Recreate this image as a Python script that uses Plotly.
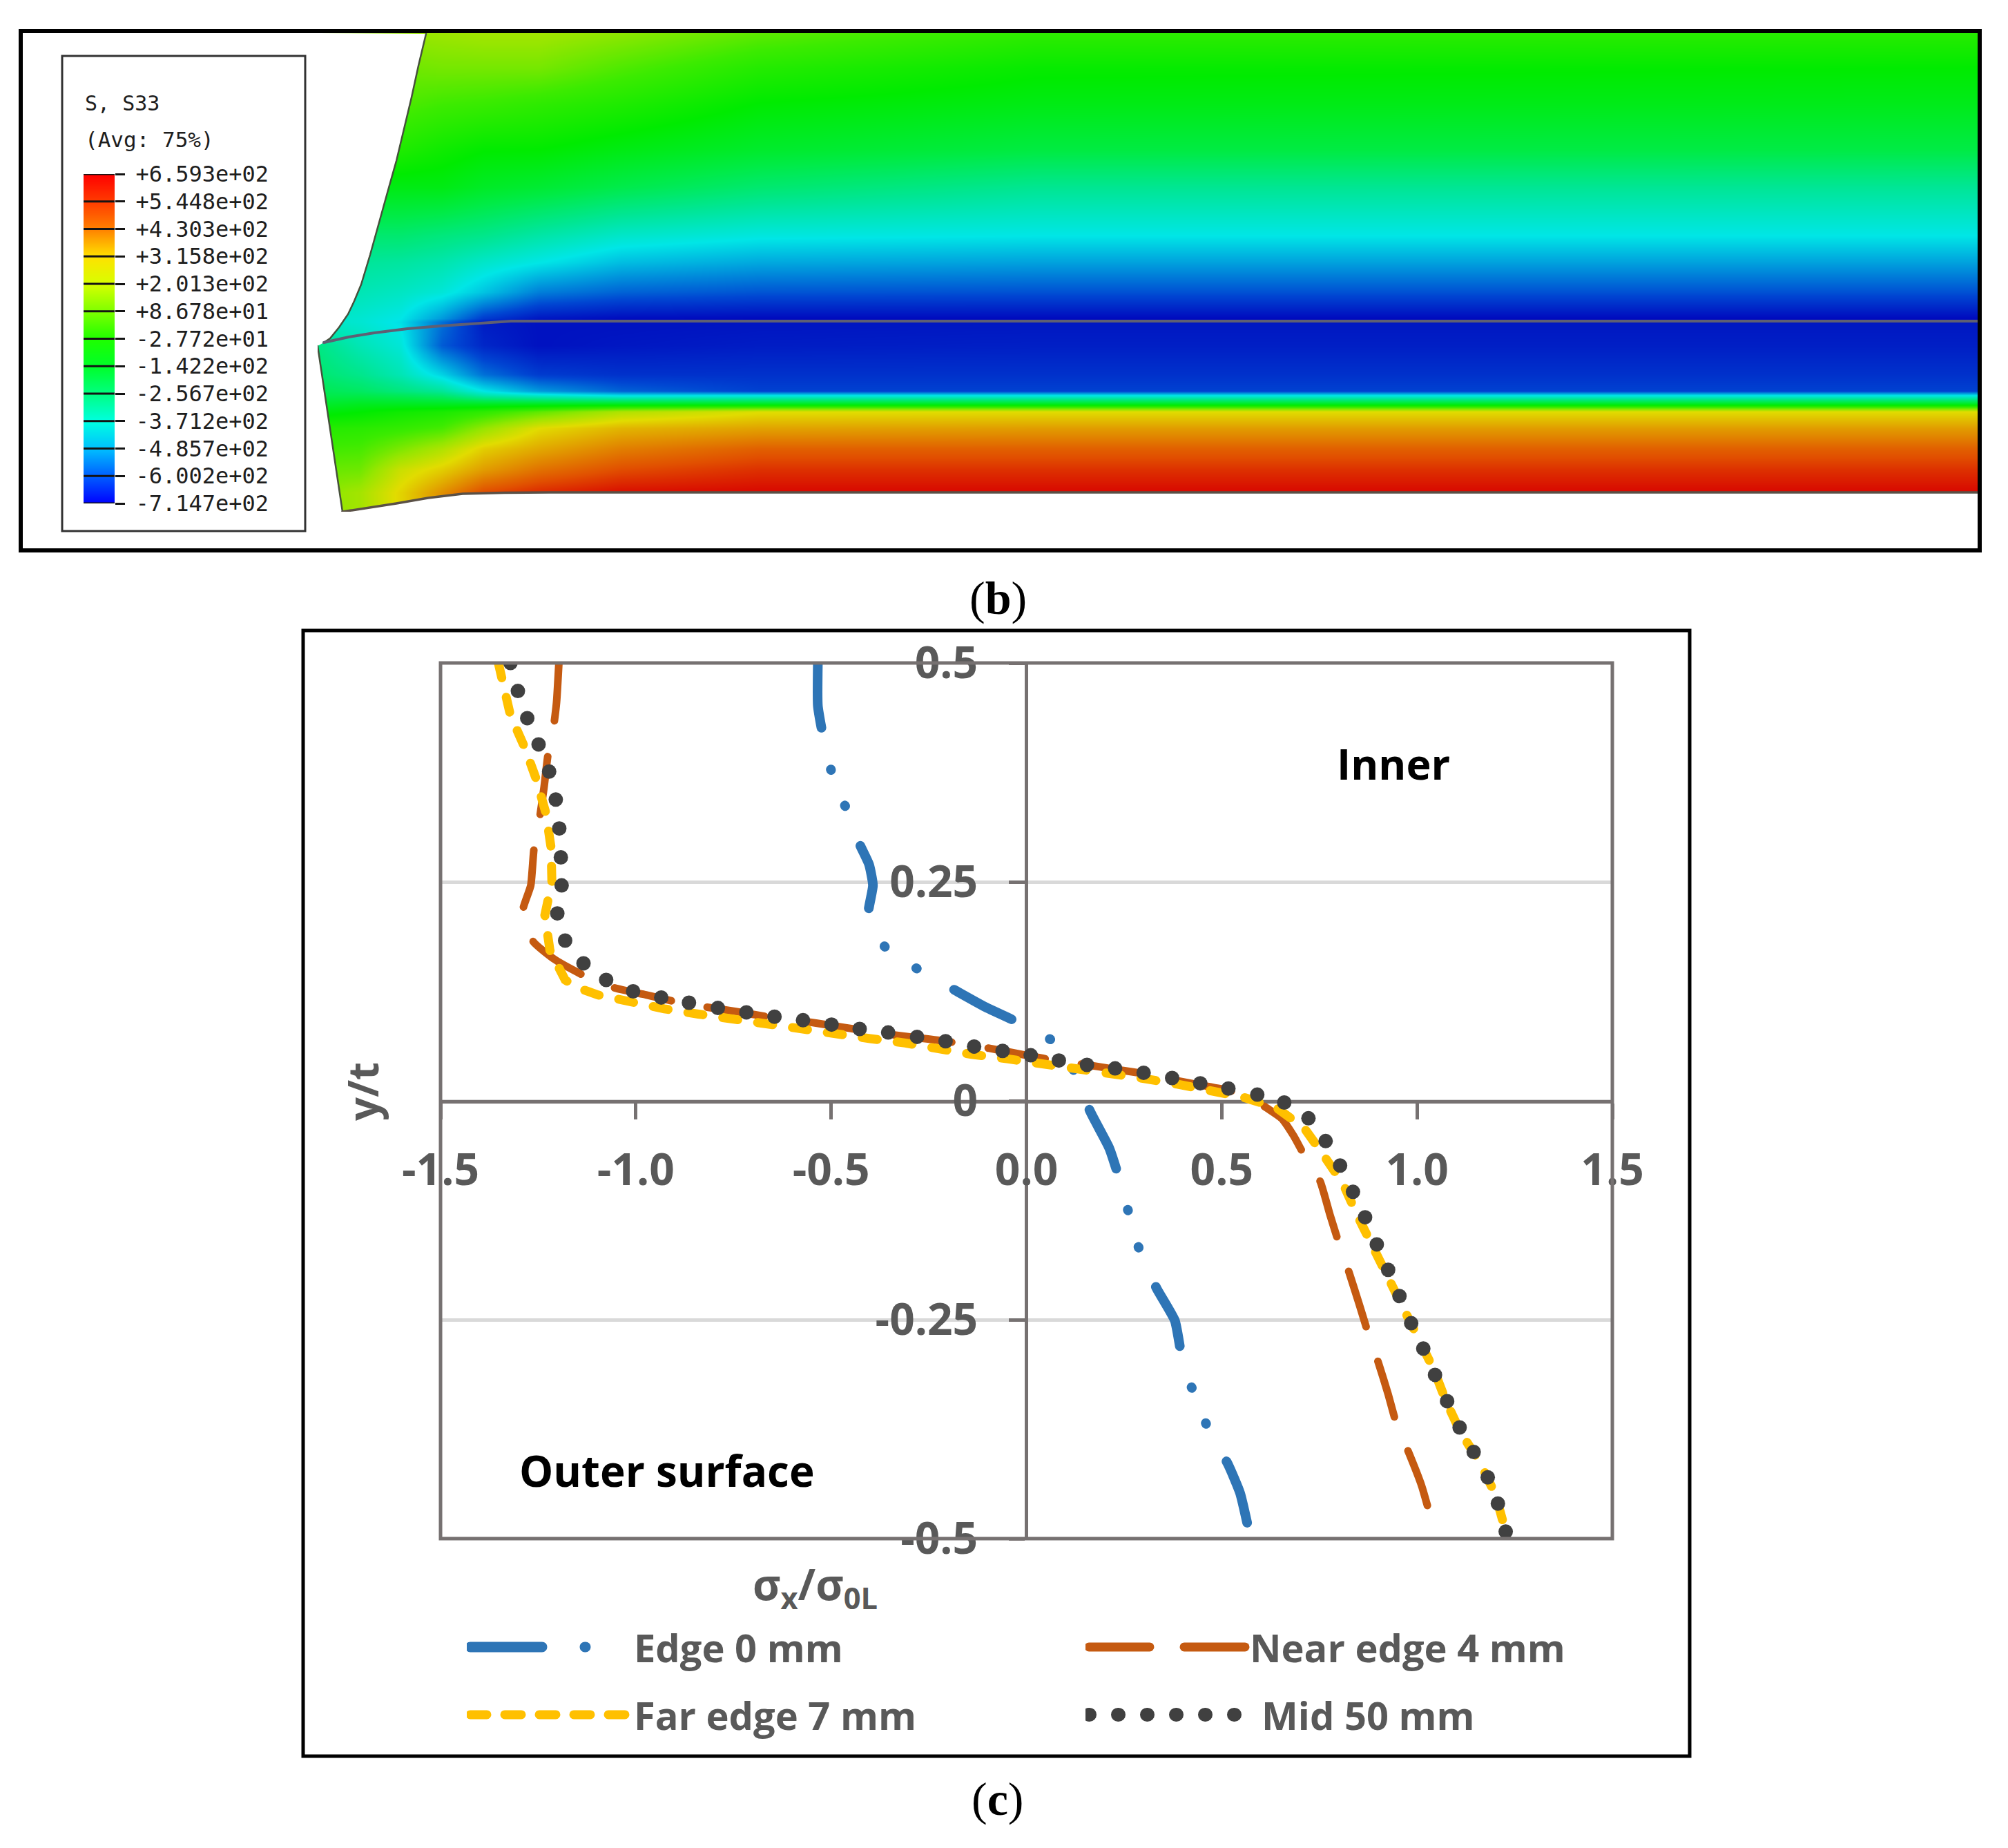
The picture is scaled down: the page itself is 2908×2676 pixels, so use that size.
import plotly.graph_objects as go

W, H = 2908, 2676

# ---------- panel (c): curves ----------
edge_x = [-.534,-.534,-.521,-.498,-.460,-.426,-.403,-.393,-.406,-.357,-.269,-.182,-.105,-.019,.071,.127,.163,.212,.237,.263,.292,.333,.380,.398,.429,.468,.516,.547,.572,.574]
edge_y = [.500,.451,.417,.374,.332,.292,.270,.246,.208,.173,.148,.126,.107,.089,.067,.030,-.012,-.054,-.088,-.130,-.174,-.214,-.251,-.293,-.335,-.377,-.415,-.448,-.496,-.500]
near_x = [-1.197,-1.203,-1.210,-1.225,-1.235,-1.247,-1.261,-1.269,-1.290,-1.263,-1.210,-1.133,-1.055,-.974,-.897,-.819,-.744,-.664,-.572,-.499,-.427,-.354,-.280,-.207,-.096,.011,.074,.155,.227,.300,.373,.445,.517,.572,.618,.653,.684,.711,.752,.777,.801,.826,.851,.876,.901,.926,.948,.978,1.012,1.032,1.050]
near_y = [.500,.455,.429,.395,.358,.321,.287,.246,.216,.182,.162,.143,.129,.121,.113,.107,.102,.096,.091,.086,.081,.076,.072,.068,.060,.051,.046,.041,.036,.031,.024,.018,.012,.004,-.009,-.020,-.040,-.062,-.092,-.130,-.164,-.196,-.231,-.267,-.299,-.335,-.370,-.401,-.440,-.471,-.500]
far_x = [-1.352,-1.340,-1.321,-1.306,-1.284,-1.254,-1.230,-1.217,-1.215,-1.233,-1.220,-1.181,-1.148,-1.098,-1.014,-.927,-.840,-.751,-.664,-.577,-.488,-.400,-.310,-.227,-.140,-.050,.037,.119,.208,.293,.386,.473,.556,.640,.711,.762,.811,.846,.886,.926,.963,1.002,1.043,1.074,1.112,1.161,1.201,1.227,1.233]
far_y = [.500,.479,.440,.425,.403,.366,.328,.289,.250,.212,.172,.138,.129,.121,.112,.105,.099,.093,.087,.081,.076,.071,.066,.059,.053,.048,.043,.037,.031,.026,.019,.012,.004,-.008,-.031,-.063,-.095,-.130,-.166,-.202,-.238,-.273,-.307,-.343,-.379,-.413,-.450,-.492,-.499]
mid_x = [-1.321,-1.302,-1.278,-1.249,-1.222,-1.205,-1.196,-1.192,-1.190,-1.201,-1.181,-1.134,-1.076,-1.007,-.935,-.864,-.790,-.717,-.645,-.572,-.499,-.427,-.354,-.280,-.207,-.134,-.061,.011,.083,.155,.227,.300,.373,.445,.517,.591,.660,.722,.766,.803,.836,.867,.897,.926,.955,.985,1.016,1.046,1.077,1.109,1.145,1.181,1.207,1.227]
mid_y = [.500,.468,.437,.407,.376,.344,.311,.278,.246,.214,.183,.157,.138,.125,.118,.112,.106,.101,.096,.092,.087,.082,.078,.073,.068,.062,.057,.052,.046,.041,.037,.032,.026,.020,.014,.007,-.002,-.020,-.046,-.074,-.104,-.133,-.164,-.193,-.223,-.254,-.283,-.313,-.343,-.373,-.401,-.430,-.460,-.492]

x_ticks = [-1.5,-1.0,-0.5,0.0,0.5,1.0,1.5]
x_labels = ["-1.5","-1.0","-0.5","0.0","0.5","1.0","1.5"]
y_ticks = [0.5,0.25,0,-0.25,-0.5]
y_labels = ["0.5","0.25","0","-0.25","-0.5"]

# ---------- panel (b): stress field S33 ----------
levels = [659.3,544.8,430.3,315.8,201.3,86.78,-27.72,-142.2,-256.7,-371.2,-485.7,-600.2,-714.7]
level_labels = ["+6.593e+02","+5.448e+02","+4.303e+02","+3.158e+02","+2.013e+02","+8.678e+01","-2.772e+01","-1.422e+02","-2.567e+02","-3.712e+02","-4.857e+02","-6.002e+02","-7.147e+02"]
key_colors = ["rgb(255,0,0)","rgb(255,60,0)","rgb(255,130,0)","rgb(255,225,0)","rgb(215,255,0)","rgb(125,255,0)","rgb(30,255,0)","rgb(0,255,40)","rgb(0,255,130)","rgb(0,255,225)","rgb(0,190,255)","rgb(0,95,255)","rgb(0,0,255)"]
field_colors = ["rgb(215,0,0)","rgb(225,80,0)","rgb(225,150,0)","rgb(225,220,0)","rgb(150,230,0)","rgb(60,235,0)","rgb(0,235,0)","rgb(0,235,70)","rgb(0,230,150)","rgb(0,230,230)","rgb(0,150,220)","rgb(0,70,210)","rgb(0,10,190)"]

col_pos = [460,520,580,640,700,780,900,1100,1500,2864]
row_pos = [48,98,150,217,271,341,380,423,461,466,500,542,566,572,585,596,620,650,680,713,741]
stress = [
 [200,200,200,210,220,220,190,130,60,45],
 [150,150,150,160,160,160,110,40,-15,-28],
 [130,120,110,90,80,60,30,-30,-60,-70],
 [40,30,30,0,-25,-28,-60,-100,-135,-142],
 [-60,-60,-60,-60,-90,-110,-150,-200,-250,-257],
 [-200,-200,-200,-220,-240,-280,-330,-360,-371,-371],
 [-260,-260,-270,-290,-330,-370,-430,-460,-470,-470],
 [-300,-300,-320,-350,-420,-520,-560,-580,-585,-585],
 [-320,-340,-370,-480,-620,-690,-710,-714,-714,-714],
 [-320,-340,-380,-540,-680,-700,-700,-695,-690,-690],
 [-230,-300,-350,-570,-660,-700,-690,-680,-675,-675],
 [-200,-240,-300,-400,-540,-620,-640,-640,-640,-640],
 [-160,-180,-220,-260,-370,-480,-560,-610,-610,-610],
 [-150,-150,-170,-200,-290,-340,-390,-380,-380,-380],
 [-100,-80,-80,-80,-80,-75,-70,-70,-70,-70],
 [-50,-30,0,20,60,130,240,310,316,316],
 [40,50,70,100,200,316,380,410,420,420],
 [90,100,170,240,340,400,470,520,520,520],
 [140,150,280,340,420,490,550,590,590,590],
 [180,220,330,440,550,600,640,650,650,650],
 [180,220,330,440,550,600,640,650,650,650],
]

# outline of the deformed part
upper_edge_x = [617,606,596,585,574,561,548,536,523,513,504,491,478,469]
upper_edge_y = [49,95,141,187,233,279,325,369,412,436,455,474,490,496]
seam_x = [469,505,542,590,638,690,740,2864]
seam_y = [496,488,482,476,472,468,465,465]
left_edge_x = [460,496]
left_edge_y = [501,741]
lower_edge_x = [496,535,574,620,670,730,797,2864]
lower_edge_y = [741,735,729,721,715,713.5,713,713]

def scale(colors):
    lo, hi = min(levels), max(levels)
    return sorted([[(v-lo)/(hi-lo), c] for v, c in zip(levels, colors)])

def px(x): return x/W
def py(y): return 1-y/H

fig = go.Figure()

# stress field
fig.add_trace(go.Heatmap(x=col_pos, y=row_pos, z=stress, xaxis="x2", yaxis="y2", zsmooth="best",
    colorscale=scale(field_colors), zmin=min(levels), zmax=max(levels), showscale=False, hoverinfo="skip"))
mask = dict(mode="lines", fill="toself", fillcolor="white", line=dict(width=0), xaxis="x2", yaxis="y2", showlegend=False, hoverinfo="skip")
fig.add_trace(go.Scatter(x=[col_pos[0]]+upper_edge_x+[left_edge_x[0]], y=[row_pos[0]]+upper_edge_y+[left_edge_y[0]], **mask))
fig.add_trace(go.Scatter(x=[left_edge_x[0],left_edge_x[1],left_edge_x[0]], y=[left_edge_y[0],left_edge_y[1],left_edge_y[1]], **mask))
fig.add_trace(go.Scatter(x=lower_edge_x+[lower_edge_x[-1],lower_edge_x[0]], y=lower_edge_y+[row_pos[-1],row_pos[-1]], **mask))
for xs, ys, c, w in [(upper_edge_x,upper_edge_y,"rgb(70,80,60)",2.5),(left_edge_x,left_edge_y,"rgb(70,80,60)",2.5),(lower_edge_x,lower_edge_y,"rgb(90,80,70)",3.5),(seam_x,seam_y,"rgb(95,95,115)",4)]:
    fig.add_trace(go.Scatter(x=xs, y=ys, mode="lines", line=dict(color=c, width=w), xaxis="x2", yaxis="y2", showlegend=False, hoverinfo="skip"))

# colour key
fig.add_trace(go.Heatmap(x=[0,1], y=levels, z=[[v,v] for v in levels], xaxis="x3", yaxis="y3", zsmooth="best",
    colorscale=scale(key_colors), zmin=min(levels), zmax=max(levels), showscale=False, hoverinfo="skip"))
tick_x, tick_y = [], []
for v in levels:
    tick_x += [0,1,None]; tick_y += [v,v,None]
fig.add_trace(go.Scatter(x=tick_x, y=tick_y, mode="lines", line=dict(color="rgb(20,20,20)", width=3), xaxis="x3", yaxis="y3", showlegend=False, hoverinfo="skip"))

# curves
BLUE, ORANGE, YELLOW, DARK = "rgb(46,117,182)", "rgb(197,90,17)", "rgb(255,192,0)", "rgb(64,64,64)"
fig.add_trace(go.Scatter(x=edge_x, y=edge_y, mode="lines", showlegend=False, line=dict(color=BLUE, width=14, shape="spline", smoothing=0.5, dash="94px,62px,1px,55px,1px,62px")))
fig.add_trace(go.Scatter(x=near_x, y=near_y, mode="lines", showlegend=False, line=dict(color=ORANGE, width=11, shape="spline", smoothing=0.5, dash="84px,53px")))
fig.add_trace(go.Scatter(x=far_x, y=far_y, mode="lines", showlegend=False, line=dict(color=YELLOW, width=13, dash="22px,29px")))
fig.add_trace(go.Scatter(x=mid_x, y=mid_y, mode="markers", marker=dict(color=DARK, size=21), showlegend=False))
# legend entries
names = ["Edge 0 mm","Near edge 4 mm","Far edge 7 mm","Mid 50 mm"]
for name, lg, c, w, d in [(names[0],"legend",BLUE,15,"104px,62px,1px,300px"),(names[1],"legend2",ORANGE,13,"88px,50px"),
                          (names[2],"legend3",YELLOW,13,"24px,26px"),(names[3],"legend4",DARK,20,"1px,41px")]:
    fig.add_trace(go.Scatter(x=[None], y=[None], mode="lines", name=name, legend=lg, line=dict(color=c, width=w, dash=d)))

GREY = "rgb(118,113,113)"
TICK = dict(family="Open Sans", size=64, color="rgb(89,89,89)", weight=700)
fig.update_layout(
    width=W, height=H, margin=dict(l=0,r=0,t=0,b=0,autoexpand=False), paper_bgcolor="white", plot_bgcolor="rgba(0,0,0,0)",
    xaxis=dict(domain=[px(638),px(2335)], range=[-1.5,1.5], anchor="free", position=py(1595), tickmode="array", automargin=False,
        tickvals=x_ticks, ticktext=x_labels, ticks="outside", ticklen=23, tickwidth=5, tickcolor=GREY, showgrid=False,
        zeroline=False, showline=True, linecolor=GREY, linewidth=5, tickfont=TICK, ticklabelstandoff=18, layer="below traces"),
    yaxis=dict(domain=[py(2228),py(960)], range=[-0.5,0.5], anchor="free", position=px(1486), tickmode="array", automargin=False,
        tickvals=y_ticks, ticktext=y_labels, ticks="outside", ticklen=23, tickwidth=5, tickcolor=GREY, showgrid=True,
        gridcolor="rgb(217,217,217)", gridwidth=5, zeroline=False, showline=True, linecolor=GREY, linewidth=5,
        tickfont=TICK, ticklabelstandoff=32, layer="below traces"),
    xaxis2=dict(domain=[px(460),px(2864)], range=[460,2864], anchor="y2", visible=False, automargin=False),
    yaxis2=dict(domain=[py(741),py(48)], range=[741,48], anchor="x2", visible=False, automargin=False),
    xaxis3=dict(domain=[px(121),px(166)], range=[0,1], anchor="y3", visible=False, automargin=False),
    yaxis3=dict(domain=[py(729),py(252)], range=[min(levels),max(levels)], anchor="free", position=px(166), side="right", automargin=False,
        tickmode="array", tickvals=levels, ticktext=level_labels, ticks="outside", ticklen=14, tickwidth=3, tickcolor="rgb(20,20,20)",
        showgrid=False, zeroline=False, showline=False, ticklabelstandoff=9,
        tickfont=dict(family="DejaVu Sans Mono", size=32, color="rgb(30,30,30)")),
    showlegend=True,
)
LEG = dict(xanchor="left", yanchor="middle", bgcolor="rgba(0,0,0,0)", orientation="v",
           font=dict(family="Open Sans", size=56, color="rgb(89,89,89)", weight=700), itemclick=False, itemdoubleclick=False)
fig.update_layout(
    legend=dict(x=px(676), y=py(2385), itemwidth=232, **LEG),
    legend2=dict(x=px(1572), y=py(2385), itemwidth=228, **LEG),
    legend3=dict(x=px(676), y=py(2483), itemwidth=232, **LEG),
    legend4=dict(x=px(1572), y=py(2483), itemwidth=245, **LEG),
)

def frame(x0,y0,x1,y1,color,width):
    return dict(type="rect", xref="paper", yref="paper", x0=px(x0), x1=px(x1), y0=py(y0), y1=py(y1), line=dict(color=color,width=width), layer="above")
fig.update_layout(shapes=[
    frame(30,45,2867,797,"black",6),
    frame(90,81,442,769,"rgb(50,50,50)",3),
    frame(439,913,2447,2543,"black",5),
    frame(638,960,2335,2228,GREY,5),
])

def note(x,y,text,size,color,family="Open Sans",angle=0,weight=600):
    return dict(x=px(x),y=py(y),xref="paper",yref="paper",text=text,showarrow=False,textangle=angle,xanchor="center",yanchor="middle",
                font=dict(family=family,size=size,color=color,weight=weight))
fig.update_layout(annotations=[
    note(2018,1105,"Inner",61,"black",weight=700),
    note(966,2129,"Outer surface",62,"black",weight=700),
    note(525,1581,"y/t",60,"rgb(89,89,89)",angle=-90,weight=700),
    note(1180,2297,"σ<sub>x</sub>/σ<sub>0L</sub>",62,"rgb(89,89,89)",weight=700),
    note(1445,866,"(<b>b</b>)",68,"black",family="Liberation Serif",weight=400),
    note(1445,2605,"(<b>c</b>)",68,"black",family="Liberation Serif",weight=400),
    dict(x=px(121),y=py(149),xref="paper",yref="paper",text="S, S33",showarrow=False,xanchor="left",yanchor="middle",font=dict(family="DejaVu Sans Mono",size=30,color="rgb(30,30,30)")),
    dict(x=px(121),y=py(202),xref="paper",yref="paper",text="(Avg: 75%)",showarrow=False,xanchor="left",yanchor="middle",font=dict(family="DejaVu Sans Mono",size=31,color="rgb(30,30,30)")),
])

post = """document.body.style.margin='0';
var st=document.createElement('style');
st.textContent='.scatterlayer .trace path.js-line, .legendlines path {stroke-linecap: round !important;}';
document.head.appendChild(st);
var keyWidth={'46,117,182':15,'197,90,17':13,'255,192,0':13,'64,64,64':20};
function restyleKeys(){document.querySelectorAll('.legendlines path').forEach(function(p){
  var c=(p.style.stroke||'').replace(/[^0-9,]/g,'');
  if(keyWidth[c]){p.style.setProperty('stroke-width',keyWidth[c]+'px','important');}
  p.style.setProperty('stroke-linecap','round','important');});}
restyleKeys();setTimeout(restyleKeys,0);setTimeout(restyleKeys,200);"""
fig.write_html("out.html", post_script=post, config={"displayModeBar": False})
